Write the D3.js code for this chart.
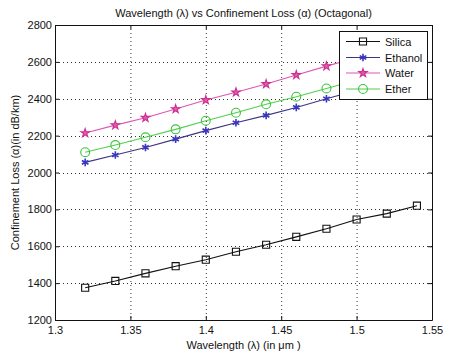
<!DOCTYPE html>
<html><head><meta charset="utf-8">
<script src="https://cdn.jsdelivr.net/npm/d3@7"></script>
<style>
html,body{margin:0;padding:0;background:#fff;}
svg{display:block;font-family:"Liberation Sans",Arial,sans-serif;}
</style></head>
<body>
<svg id="c" width="452" height="355"></svg>
<script>
const wavelength = [1.32,1.34,1.36,1.38,1.40,1.42,1.44,1.46,1.48,1.50,1.52,1.54];
const silica  = [1375,1412,1453,1492,1527,1570,1608,1651,1695,1745,1777,1820];
const ethanol = [2055,2095,2136,2181,2227,2270,2310,2353,2400,2445,2490,2535];
const water   = [2214,2257,2297,2344,2393,2435,2480,2529,2577,2622,2668,2714];
const ether   = [2110,2149,2191,2234,2281,2324,2370,2411,2456,2500,2545,2590];
const seriesNames = ["Silica","Ethanol","Water","Ether"];
const xTicks = [1.3,1.35,1.4,1.45,1.5,1.55];
const yTicks = [1200,1400,1600,1800,2000,2200,2400,2600,2800];
const titleText = "Wavelength (\u03bb) vs Confinement Loss (\u03b1) (Octagonal)";
const xLabel = "Wavelength (\u03bb) (in \u03bcm )";
const yLabel = "Confinement Loss (\u03b1)(in dB/km)";

const styles = {
  Silica:  {line:"#111", marker:"#111", sym:"square"},
  Ethanol: {line:"#3e3580", marker:"#3a36c0", sym:"asterisk"},
  Water:   {line:"#e055b5", marker:"#cc2f90", sym:"star"},
  Ether:   {line:"#4fd04f", marker:"#3cc43c", sym:"circle"}
};
const seriesData = {Silica:silica, Ethanol:ethanol, Water:water, Ether:ether};

const svg = d3.select("#c");
const L=55, R=432, T=25, B=320;
const x = d3.scaleLinear().domain([1.3,1.55]).range([L,R]);
const y = d3.scaleLinear().domain([1200,2800]).range([B,T]);

// grid
const g = svg.append("g");
g.selectAll(".vg").data(xTicks.slice(1,-1)).join("line")
  .attr("x1",d=>x(d)+0.5).attr("x2",d=>x(d)+0.5).attr("y1",T).attr("y2",B)
  .attr("stroke","#333").attr("stroke-width",1).attr("stroke-dasharray","1,3");
g.selectAll(".hg").data(yTicks.slice(1,-1)).join("line")
  .attr("y1",d=>Math.round(y(d))+0.5).attr("y2",d=>Math.round(y(d))+0.5).attr("x1",L).attr("x2",R)
  .attr("stroke","#333").attr("stroke-width",1).attr("stroke-dasharray","1,3");

// axes (MATLAB style: ticks inward on all sides)
const fs = 11;
const axB = svg.append("g").attr("transform",`translate(0,${B})`)
  .call(d3.axisBottom(x).tickValues(xTicks).tickFormat(d3.format("")).tickSizeInner(-4).tickSizeOuter(0).tickPadding(6));
const axT = svg.append("g").attr("transform",`translate(0,${T})`)
  .call(d3.axisTop(x).tickValues(xTicks).tickFormat("").tickSizeInner(-4).tickSizeOuter(0));
const axL = svg.append("g").attr("transform",`translate(${L},0)`)
  .call(d3.axisLeft(y).tickValues(yTicks).tickFormat(d3.format("d")).tickSizeInner(-4).tickSizeOuter(0).tickPadding(3));
const axR = svg.append("g").attr("transform",`translate(${R},0)`)
  .call(d3.axisRight(y).tickValues(yTicks).tickFormat("").tickSizeInner(-4).tickSizeOuter(0));
[axB,axT,axL,axR].forEach(a=>{
  a.selectAll("text").attr("font-size",fs).attr("fill","#111").attr("font-family","Liberation Sans, Arial, sans-serif");
  a.selectAll("line").attr("stroke","#111");
  a.select(".domain").attr("stroke","#111");
});

// series
function symPath(kind,size){
  const map = {square:d3.symbolSquare, circle:d3.symbolCircle, star:d3.symbolStar,
               asterisk:d3.symbolAsterisk || d3.symbolCross};
  return d3.symbol().type(map[kind]).size(size)();
}
const symSize = {square:50, circle:62, star:22, asterisk:40};
const line = d3.line().x((d,i)=>x(wavelength[i])).y(d=>y(d));
seriesNames.forEach(name=>{
  const st = styles[name], vals = seriesData[name];
  const sg = svg.append("g");
  sg.append("path").datum(vals).attr("d",line).attr("fill","none")
    .attr("stroke",st.line).attr("stroke-width",1.1);
  sg.selectAll("path.m").data(vals).join("path").attr("class","m")
    .attr("transform",(d,i)=>`translate(${x(wavelength[i])},${y(d)})`)
    .attr("d",symPath(st.sym,symSize[st.sym]))
    .attr("fill", st.sym==="star" ? "#e060b0" : "none")
    .attr("stroke",st.marker).attr("stroke-width", st.sym==="asterisk"?1.6:1.1);
});

// legend
const lx=339, ly=31, lw=88, lh=68;
const lg = svg.append("g");
lg.append("rect").attr("x",lx+0.5).attr("y",ly+0.5).attr("width",lw).attr("height",lh)
  .attr("fill","#fff").attr("stroke","#111").attr("stroke-width",1);
const rowY = [41.5,57.5,73,89];
seriesNames.forEach((name,i)=>{
  const st=styles[name];
  lg.append("line").attr("x1",346).attr("x2",380).attr("y1",rowY[i]).attr("y2",rowY[i])
    .attr("stroke",st.line).attr("stroke-width",1.1);
  lg.append("path").attr("transform",`translate(363,${rowY[i]})`)
    .attr("d",symPath(st.sym,symSize[st.sym]))
    .attr("fill", st.sym==="star" ? "#e060b0" : "none")
    .attr("stroke",st.marker).attr("stroke-width", st.sym==="asterisk"?1.6:1.1);
  lg.append("text").attr("x",385).attr("y",rowY[i]+4).attr("font-size",fs).attr("fill","#111").text(name);
});

// titles
svg.append("text").attr("x",(L+R)/2).attr("y",17).attr("text-anchor","middle")
  .attr("font-size",fs).attr("fill","#111").text(titleText);
svg.append("text").attr("x",(L+R)/2).attr("y",349).attr("text-anchor","middle")
  .attr("font-size",fs).attr("fill","#111").text(xLabel);
svg.append("text").attr("transform",`translate(19,${(T+B)/2}) rotate(-90)`).attr("text-anchor","middle")
  .attr("font-size",fs).attr("fill","#111").text(yLabel);
</script>
</body></html>
